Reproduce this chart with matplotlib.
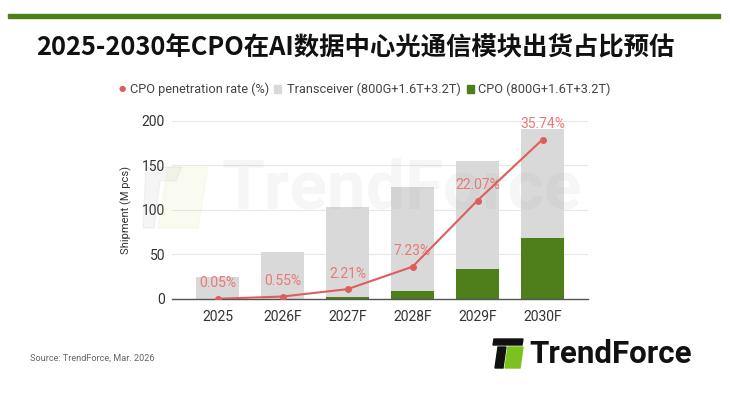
import matplotlib
matplotlib.use("Agg")
import matplotlib.pyplot as plt
from matplotlib.patches import Rectangle, Polygon
import numpy as np

plt.rcParams['font.family'] = ['Roboto', 'DejaVu Sans']

categories = ["2025", "2026F", "2027F", "2028F", "2029F", "2030F"]
cpo = [0.01, 0.3, 2.3, 9.0, 34.0, 68.0]
transceiver = [24.5, 52.2, 100.5, 116.0, 121.0, 122.0]
penetration = [0.05, 0.55, 2.21, 7.23, 22.07, 35.74]
pen_labels = ["0.05%", "0.55%", "2.21%", "7.23%", "22.07%", "35.74%"]
yticks = [0, 50, 100, 150, 200]

GREEN = "#4f7f1a"
GRAY = "#d9d9d9"
RED = "#df5d5d"
LABEL_RED = "#e8797a"

fig = plt.figure(figsize=(7.3, 3.99), dpi=100)
W, H = 730, 399

def fx(px):
    return px / W

def fy(py):
    return 1 - py / H

# top green band
fig.patches.append(Rectangle((fx(8), fy(18)), fx(712), 4 / H, transform=fig.transFigure,
                             color=GREEN, zorder=1))

# title
fig.text(fx(355), fy(48), "2025-2030年CPO在AI数据中心光通信模块出货占比预估",
         ha="center", va="center", fontsize=18.3, fontweight="bold",
         family=["Noto Sans CJK SC", "DejaVu Sans"], color="#111111")

# axes
ax = fig.add_axes([fx(172), fy(299), fx(588 - 172), (299 - 120.5) / H])
x = np.arange(len(categories))
bw = 0.66
ax.bar(x, cpo, bw, color=GREEN, zorder=2)
ax.bar(x, transceiver, bw, bottom=cpo, color=GRAY, zorder=2)
ax.set_ylim(0, 200)
ax.set_xlim(-0.7, len(categories) - 0.3)
ax.set_yticks(yticks)
ax.set_xticks(x)
ax.set_xticklabels(categories)
ax.tick_params(axis="both", length=0, labelsize=10, colors="#333333")
ax.tick_params(axis="y", pad=5)
ax.tick_params(axis="x", pad=8)
ax.grid(axis="y", color="#e8e8e8", linewidth=0.8, zorder=0)
for s in ["top", "right", "left"]:
    ax.spines[s].set_visible(False)
ax.spines["bottom"].set_color("#555555")
ax.spines["bottom"].set_linewidth(1.0)
ax.spines["bottom"].set_zorder(3)
ax.set_ylabel("Shipment (M pcs)", fontsize=8, color="#333333", labelpad=7)

# watermark
fig.text(fx(402), fy(190), "TrendForce", ha="center", va="center", fontsize=50,
         fontweight="bold", color="#888888", alpha=0.07, zorder=5)
fig.patches.append(Polygon([[fx(146), fy(167)], [fx(182), fy(167)], [fx(176), fy(181)], [fx(160), fy(181)],
                            [fx(154), fy(228)], [fx(143), fy(228)]],
                           closed=True, transform=fig.transFigure, color="#777777", alpha=0.07, zorder=5))
fig.patches.append(Polygon([[fx(168), fy(167)], [fx(208), fy(167)], [fx(198), fy(228)], [fx(158), fy(228)]],
                           closed=True, transform=fig.transFigure, color="#b8d848", alpha=0.08, zorder=5))

# penetration line on hidden secondary axis
ax2 = ax.twinx()
ax2.set_ylim(0, 40)
ax2.axis("off")
ax2.plot(x, penetration, color=RED, linewidth=1.5, marker="o", markersize=4, zorder=4)
for xi, v, lab in zip(x, penetration, pen_labels):
    ax2.annotate(lab, (xi, v), xytext=(0, 6), textcoords="offset points",
                 ha="center", va="bottom", fontsize=10, color=LABEL_RED, clip_on=False)

# legend
ly = fy(89)
LF = 9.2
fig.text(fx(122), ly, "●", color=RED, fontsize=6, ha="center", va="center")
fig.text(fx(130), ly, "CPO penetration rate (%)", fontsize=LF, color="#444444", va="center")
fig.patches.append(Rectangle((fx(274), ly - 3.5 / H), 7 / W, 7 / H, transform=fig.transFigure, color=GRAY))
fig.text(fx(287), ly, "Transceiver (800G+1.6T+3.2T)", fontsize=LF, color="#444444", va="center")
fig.patches.append(Rectangle((fx(467), ly - 3.5 / H), 7 / W, 7 / H, transform=fig.transFigure, color=GREEN))
fig.text(fx(478), ly, "CPO (800G+1.6T+3.2T)", fontsize=LF, color="#444444", va="center")

# source
fig.text(fx(30), fy(358), "Source: TrendForce, Mar. 2026", fontsize=6.6, color="#666666", va="center")

# logo
fig.patches.append(Polygon([[fx(494), fy(339)], [fx(523), fy(339)], [fx(522), fy(345)], [fx(493), fy(345)]],
                           closed=True, transform=fig.transFigure, color="#111111"))
fig.patches.append(Polygon([[fx(498), fy(347)], [fx(506), fy(347)], [fx(503), fy(368)], [fx(495), fy(368)]],
                           closed=True, transform=fig.transFigure, color="#111111"))
fig.patches.append(Polygon([[fx(508), fy(347)], [fx(523), fy(347)], [fx(520), fy(368)], [fx(505), fy(368)]],
                           closed=True, transform=fig.transFigure, color="#7cc21f"))
fig.text(fx(529), fy(354), "TrendForce", fontsize=22.5, fontweight="bold", color="#111111",
         va="center", ha="left")

fig.savefig("out.png", dpi=100)
